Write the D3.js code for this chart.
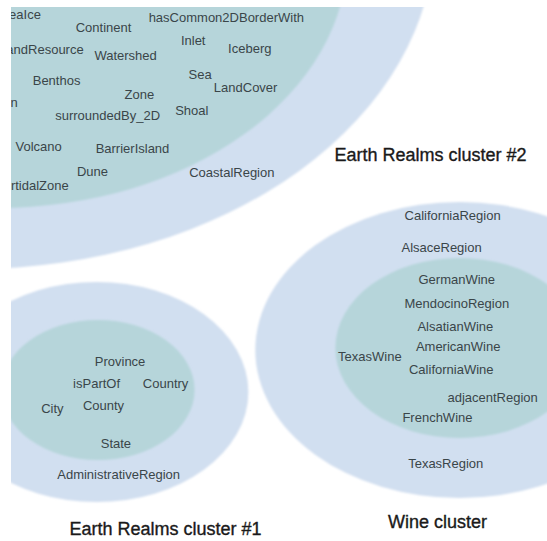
<!DOCTYPE html>
<meta charset="utf-8">
<script src="https://d3js.org/d3.v7.min.js"></script>
<style>
  body { margin: 0; background: #fff; }
  text { font-family: "Liberation Sans", Arial, sans-serif; }
</style>
<div id="my_dataviz"></div>
<script>
    // clusters: centre and ring radii in layout units (y units; x is stretched)
    const clusterNames = ["Earth Realms cluster #2", "Earth Realms cluster #1", "Wine cluster"];
    const clusterCx = [-20, 70, 333];
    const clusterCy = [-66, 392, 350];
    const outerR = [335, 110, 148];
    const innerCx = [-2, 71, 333];
    const innerCy = [-46, 390, 348];
    const innerR = [254, 70, 90];
    const titleX = [312, 120, 317];
    const titleY = [155, 529, 522];

    // concept labels, position in layout units
    const nodeNames = [
      "SeaIce", "Continent", "hasCommon2DBorderWith", "Inlet", "Iceberg", "LandResource",
      "Watershed", "Benthos", "Sea", "LandCover", "Zone", "Ocean", "Shoal", "surroundedBy_2D",
      "Volcano", "BarrierIsland", "Dune", "CoastalRegion", "IntertidalZone",
      "CaliforniaRegion", "AlsaceRegion", "GermanWine", "MendocinoRegion", "AlsatianWine",
      "AmericanWine", "TexasWine", "CaliforniaWine", "adjacentRegion", "FrenchWine", "TexasRegion",
      "Province", "isPartOf", "Country", "City", "County", "State", "AdministrativeRegion"
    ];
    const nodeX = [
      15, 75, 164, 140, 181, 30,
      91, 41, 145, 178, 101, -1, 139, 78,
      28, 96, 67, 168, 21,
      328, 320, 331, 331, 330,
      332, 268, 327, 357, 317, 323,
      87, 70, 120, 38, 75, 84, 86
    ];
    const nodeY = [
      14, 27, 17, 40, 48, 49,
      55, 80, 74, 87, 94, 102, 110, 115,
      146, 148, 171, 172, 185,
      215, 247, 279, 303, 326,
      346, 356, 369, 397, 417, 463,
      361, 383, 383, 408, 405, 443, 474
    ];

    const width = 547, height = 541;
    const aspect = 1.38;

    const x = d3.scaleLinear().domain([0, width / aspect]).range([0, width]);
    const y = d3.scaleLinear().domain([0, height]).range([0, height]);
    const rx = d3.scaleLinear().domain([0, 1]).range([0, aspect]);

    const svg = d3.select("#my_dataviz")
      .append("svg")
        .attr("width", width)
        .attr("height", height);

    svg.append("defs").append("clipPath")
        .attr("id", "frame")
      .append("rect")
        .attr("x", 11).attr("y", 7)
        .attr("width", width - 11).attr("height", height - 7);

    const blur = svg.select("defs").append("filter").attr("id", "soft");
    blur.append("feGaussianBlur").attr("stdDeviation", 0.8);

    const g = svg.append("g").attr("clip-path", "url(#frame)");

    const idx = d3.range(clusterNames.length);

    // outer rings
    g.append("g").attr("filter", "url(#soft)")
      .selectAll("ellipse")
      .data(idx)
      .join("ellipse")
        .attr("cx", i => x(clusterCx[i]))
        .attr("cy", i => y(clusterCy[i]))
        .attr("rx", i => rx(outerR[i]))
        .attr("ry", i => outerR[i])
        .attr("fill", "#d1dff0");

    // inner cores
    g.append("g").attr("filter", "url(#soft)")
      .selectAll("ellipse")
      .data(idx)
      .join("ellipse")
        .attr("cx", i => x(innerCx[i]))
        .attr("cy", i => y(innerCy[i]))
        .attr("rx", i => rx(innerR[i]))
        .attr("ry", i => innerR[i])
        .attr("fill", "#b6d5da");

    // node labels
    g.append("g")
      .selectAll("text")
      .data(nodeNames)
      .join("text")
        .attr("x", (d, i) => x(nodeX[i]))
        .attr("y", (d, i) => y(nodeY[i]))
        .attr("dy", "0.35em")
        .attr("text-anchor", "middle")
        .style("font-size", "13px")
        .attr("fill", "#3a4549")
        .text(d => d);

    // cluster titles
    svg.append("g")
      .selectAll("text")
      .data(clusterNames)
      .join("text")
        .attr("x", (d, i) => x(titleX[i]))
        .attr("y", (d, i) => y(titleY[i]))
        .attr("dy", "0.35em")
        .attr("text-anchor", "middle")
        .style("font-size", "18px")
        .attr("fill", "#1a1a1a")
        .attr("stroke", "#1a1a1a")
        .attr("stroke-width", 0.35)
        .text(d => d);
</script>
